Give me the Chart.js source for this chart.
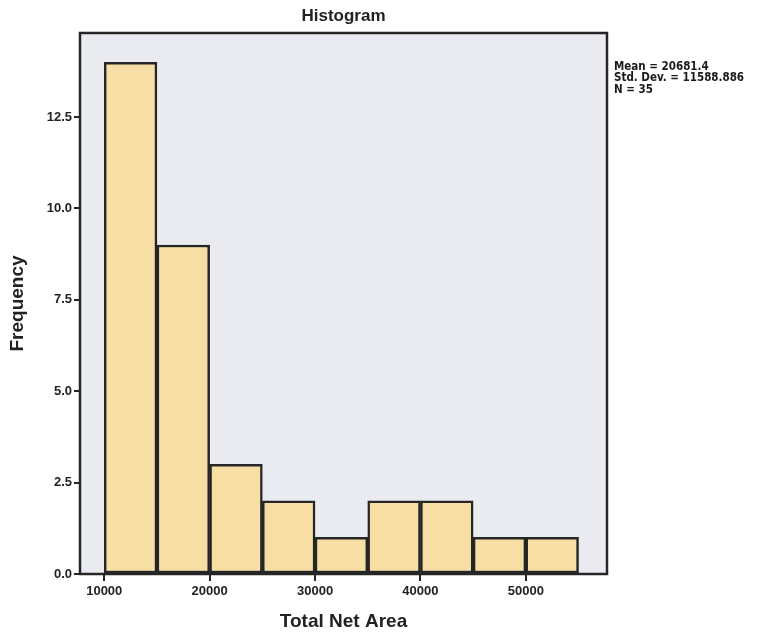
<!DOCTYPE html>
<html>
<head>
<meta charset="utf-8">
<script src="https://cdn.jsdelivr.net/npm/chart.js@4/dist/chart.umd.min.js"></script>
<style>
  html, body { margin: 0; padding: 0; background: #ffffff; }
  #wrap { width: 757px; height: 637px; position: relative; }
</style>
</head>
<body>
<div id="wrap"><canvas id="c" width="757" height="637"></canvas></div>
<script>
// ---- data ----
const binStarts = [10000, 15000, 20000, 25000, 30000, 35000, 40000, 45000, 50000];
const binWidth = 5000;
const frequencies = [14, 9, 3, 2, 1, 2, 2, 1, 1];
const xTickValues = [10000, 20000, 30000, 40000, 50000];
const yTickValues = [0, 2.5, 5, 7.5, 10, 12.5];
const statsLines = ["Mean = 20681.4", "Std. Dev. = 11588.886", "N = 35"];
const chartTitle = "Histogram";
const xTitle = "Total Net Area";
const yTitle = "Frequency";

const points = binStarts.map((s, i) => ({ x: s + binWidth / 2, y: frequencies[i] }));

const bgPlugin = {
  id: 'plotBg',
  beforeDatasetsDraw(chart) {
    const { ctx, chartArea: a } = chart;
    ctx.save();
    ctx.fillStyle = '#e9ebf1';
    ctx.fillRect(a.left, a.top, a.right - a.left, a.bottom - a.top);
    ctx.restore();
  },
  afterDatasetsDraw(chart) {
    const { ctx, chartArea: a } = chart;
    ctx.save();
    ctx.strokeStyle = '#262626';
    ctx.lineWidth = 2.5;
    ctx.strokeRect(a.left, a.top, a.right - a.left, a.bottom - a.top);
    // stats text
    ctx.fillStyle = '#1a1a1a';
    ctx.font = 'bold 11.5px "DejaVu Sans Condensed", "Liberation Sans Narrow", "Liberation Sans", sans-serif';
    ctx.textBaseline = 'middle';
    ctx.textAlign = 'left';
    statsLines.forEach((t, i) => ctx.fillText(t, a.right + 7, 67 + i * 11.5));
    ctx.restore();
  }
};

const tickFont = { family: '"Liberation Sans", Arial, sans-serif', size: 13, weight: 'bold' };
const titleFont = { family: '"Liberation Sans", Arial, sans-serif', size: 17, weight: 'bold' };
const axisTitleFont = { family: '"Liberation Sans", Arial, sans-serif', size: 19, weight: 'bold' };

new Chart(document.getElementById('c'), {
  type: 'bar',
  data: {
    datasets: [{
      data: points,
      backgroundColor: '#f6dea5',
      borderColor: '#262626',
      borderWidth: 2.5,
      borderSkipped: false,
      barPercentage: 1.0,
      categoryPercentage: 1.0
    }]
  },
  plugins: [bgPlugin],
  options: {
    responsive: false,
    animation: false,
    devicePixelRatio: 1,
    layout: { padding: { left: 0, right: 150, top: 0, bottom: 0 } },
    plugins: {
      legend: { display: false },
      tooltip: { enabled: false },
      title: {
        display: true,
        text: chartTitle,
        fullSize: false,
        color: '#222',
        font: titleFont,
        padding: { top: 6, bottom: 6.6 }
      }
    },
    scales: {
      x: {
        type: 'linear',
        offset: false,
        min: 7700,
        max: 57700,
        afterBuildTicks(scale) { scale.ticks = xTickValues.map(v => ({ value: v })); },
        afterFit(scale) { scale.height = 63; },
        grid: { display: true, offset: false, drawOnChartArea: false, drawTicks: true, tickLength: 7, color: '#262626', lineWidth: 2 },
        border: { display: false },
        ticks: { color: '#222', font: tickFont, padding: 3, maxRotation: 0, callback: v => String(v) },
        title: { display: true, text: xTitle, color: '#222', font: axisTitleFont, padding: { top: 0, bottom: 3.6 } }
      },
      y: {
        type: 'linear',
        min: 0,
        max: 14.8,
        afterBuildTicks(scale) { scale.ticks = yTickValues.map(v => ({ value: v })); },
        afterFit(scale) { scale.width = 80; },
        grid: { display: true, drawOnChartArea: false, drawTicks: true, tickLength: 6, color: '#262626', lineWidth: 2 },
        border: { display: false },
        ticks: { color: '#222', font: tickFont, padding: 2, callback: v => Number(v).toFixed(1) },
        title: { display: true, text: yTitle, color: '#222', font: axisTitleFont, padding: { top: 6.6, bottom: 0 } }
      }
    }
  }
});
</script>
</body>
</html>
